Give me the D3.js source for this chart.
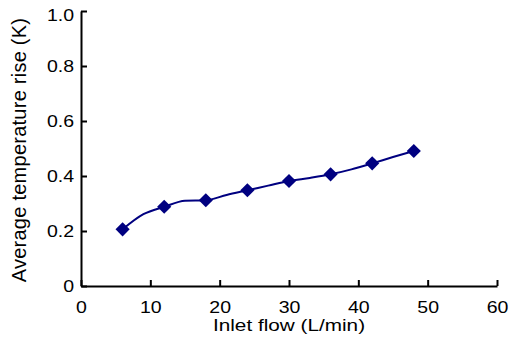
<!DOCTYPE html>
<html>
<head>
<meta charset="utf-8">
<script src="https://cdn.jsdelivr.net/npm/d3@7"></script>
<style>
  html, body { margin: 0; padding: 0; background: #fff; }
  text { font-family: "Liberation Sans", Arial, sans-serif; fill: #000; }
</style>
</head>
<body>
<svg id="chart" width="510" height="349"></svg>
<script>
// measured points (markers)
var flow = [6, 12, 18, 24, 30, 36, 42, 48];
var tempRise = [0.206, 0.288, 0.312, 0.348, 0.382, 0.406, 0.446, 0.491];

// the drawn line has more points than the markers
var lineFlow = [6, 9, 12, 15, 18, 21, 24, 27, 30, 33, 36, 39, 42, 45, 48];
var lineRise = [0.206, 0.261, 0.288, 0.310, 0.312, 0.331, 0.348, 0.365, 0.382, 0.393, 0.406, 0.424, 0.446, 0.469, 0.491];

var xTicks = [0, 10, 20, 30, 40, 50, 60];
var yTicks = [0, 0.2, 0.4, 0.6, 0.8, 1.0];

var navy = '#000080';
var stretch = 1.22; // horizontal text looks stretched in the picture

var svg = d3.select('#chart');

var x = d3.scaleLinear().domain([0, 60]).range([81, 497]);
var y = d3.scaleLinear().domain([0, 1]).range([286, 11]);

// x axis, ticks pointing inward
var xAxis = svg.append('g')
  .attr('transform', 'translate(0,' + y(0) + ')')
  .call(d3.axisBottom(x).tickValues(xTicks).tickSizeInner(-6).tickSizeOuter(0)
    .tickFormat(d3.format('d')));

xAxis.select('.domain').attr('stroke', '#000').attr('stroke-width', 2);
xAxis.selectAll('.tick line').attr('stroke', '#000').attr('stroke-width', 2);
xAxis.selectAll('.tick text')
  .attr('y', 27)
  .attr('dy', 0)
  .attr('font-size', '16px')
  .attr('transform', 'scale(' + stretch + ',1)');

// y axis, ticks pointing inward
var yAxis = svg.append('g')
  .attr('transform', 'translate(' + x(0) + ',0)')
  .call(d3.axisLeft(y).tickValues(yTicks).tickSizeInner(-6).tickSizeOuter(0)
    .tickFormat(function (d) { return d === 0 ? '0' : d3.format('.1f')(d); }));

yAxis.select('.domain').attr('stroke', '#000').attr('stroke-width', 2);
yAxis.selectAll('.tick line').attr('stroke', '#000').attr('stroke-width', 2);
yAxis.selectAll('.tick text')
  .attr('x', -7 / stretch)
  .attr('dy', function (d) { return d === 1 ? '0.6em' : '0.35em'; })
  .attr('font-size', '16px')
  .attr('transform', 'scale(' + stretch + ',1)');

// axis titles
svg.append('text')
  .attr('transform', 'translate(' + ((x.range()[0] + x.range()[1]) / 2) + ',331) scale(1.22,1)')
  .attr('text-anchor', 'middle')
  .attr('font-size', '17px')
  .text('Inlet flow (L/min)');

svg.append('text')
  .attr('transform', 'translate(26,150) rotate(-90)')
  .attr('text-anchor', 'middle')
  .attr('font-size', '20px')
  .attr('letter-spacing', '0.25px')
  .text('Average temperature rise (K)');

// line
var lineData = lineFlow.map(function (f, i) { return [f, lineRise[i]]; });

svg.append('path')
  .datum(lineData)
  .attr('fill', 'none')
  .attr('stroke', navy)
  .attr('stroke-width', 2)
  .attr('d', d3.line()
    .x(function (d) { return x(d[0]); })
    .y(function (d) { return y(d[1]); })
    .curve(d3.curveMonotoneX));

// diamond markers
var diamond = d3.symbol().type(d3.symbolSquare).size(100);

svg.append('g')
  .selectAll('path')
  .data(flow.map(function (f, i) { return [f, tempRise[i]]; }))
  .enter()
  .append('path')
  .attr('d', diamond)
  .attr('fill', navy)
  .attr('transform', function (d) {
    return 'translate(' + x(d[0]) + ',' + y(d[1]) + ') rotate(45)';
  });
</script>
</body>
</html>
